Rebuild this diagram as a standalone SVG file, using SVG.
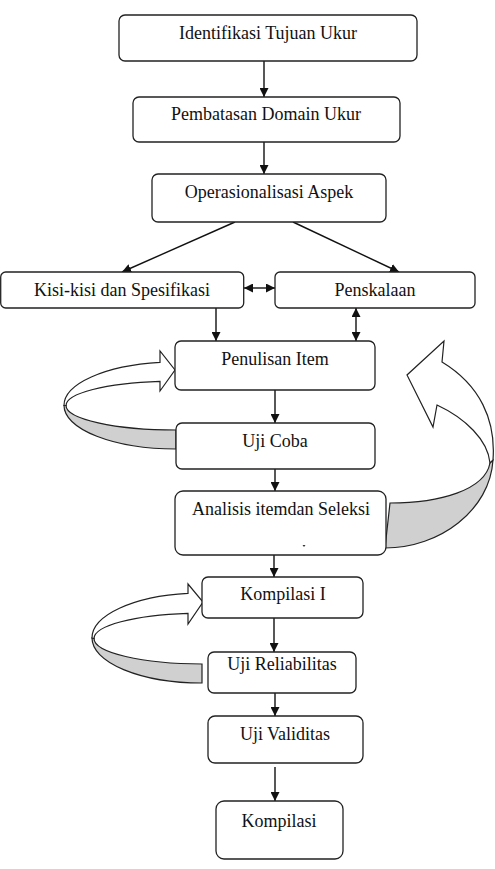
<svg xmlns="http://www.w3.org/2000/svg" width="495" height="869" viewBox="0 0 495 869">
<style>
.box{fill:#fff;stroke:#222;stroke-width:1.3}
.t{font-family:'Liberation Serif','Times New Roman','DejaVu Serif',serif;font-size:18px;fill:#111;text-anchor:middle}
.c{stroke:#111;stroke-width:1.4;fill:none}
.wa{fill:#fff;stroke:#222;stroke-width:1.2;stroke-linejoin:miter}
.ga{fill:#d0d0d0;stroke:#222;stroke-width:1.2}
</style>
<defs>
<marker id="ah" viewBox="0 0 10 10" refX="10" refY="5" markerWidth="9" markerHeight="9" markerUnits="userSpaceOnUse" orient="auto-start-reverse">
<path d="M0,0 L10,5 L0,10 z" fill="#111"/>
</marker>
</defs>
<rect width="495" height="869" fill="#fff"/>

<g id="loop1">
<path class="ga" d="M176,449 A112,43.5 0 0 1 64,405.5 L66,405.5 A110,24.5 0 0 0 176,430 Z"/>
<path class="wa" d="M160,362.4 L160,351 L175,370 L160,391 L160,381.3 A110,24.5 0 0 0 66,405.5 L64,405.5 A112,43.5 0 0 1 160,362.4 Z"/>
</g>
<g id="loop2">
<path class="ga" d="M202,683 A110,45 0 0 1 92,638 L94,638.5 A108,25.5 0 0 0 202,664 Z"/>
<path class="wa" d="M188,593.4 L188,584 L203,602 L188,624 L188,613.3 A108,25.5 0 0 0 94,638.5 L92,638 A110,45 0 0 1 188,593.4 Z"/>
</g>
<g id="loop3">
<path class="ga" d="M390,503 C440,503 485,490 490,463 L493,460 C490,510 440,548 385,548 Z"/>
<path class="wa" d="M442,362 L444,341 L407,375 L433,427 L437,405 C465,418 488,440 490,463 L493,460 C496,420 480,385 442,362 Z"/>
</g>

<g id="connectors">
<line class="c" x1="264" y1="61" x2="264" y2="97" marker-end="url(#ah)"/>
<line class="c" x1="264" y1="142" x2="264" y2="174" marker-end="url(#ah)"/>
<line class="c" x1="235" y1="222" x2="122" y2="272" marker-end="url(#ah)"/>
<line class="c" x1="293" y1="222" x2="399" y2="272" marker-end="url(#ah)"/>
<line class="c" x1="244" y1="288" x2="275" y2="288" marker-start="url(#ah)" marker-end="url(#ah)"/>
<line class="c" x1="216" y1="308" x2="216" y2="341" marker-end="url(#ah)"/>
<line class="c" x1="356" y1="308" x2="356" y2="341" marker-start="url(#ah)" marker-end="url(#ah)"/>
<line class="c" x1="275" y1="390" x2="275" y2="423" marker-end="url(#ah)"/>
<line class="c" x1="275" y1="469" x2="275" y2="491" marker-end="url(#ah)"/>
<line class="c" x1="274" y1="555" x2="274" y2="577" marker-end="url(#ah)"/>
<line class="c" x1="274" y1="618" x2="274" y2="652" marker-end="url(#ah)"/>
<line class="c" x1="275" y1="693" x2="275" y2="716" marker-end="url(#ah)"/>
<line class="c" x1="275" y1="767" x2="275" y2="801" marker-end="url(#ah)"/>
</g>

<g id="n1"><rect class="box" x="119" y="15" width="298" height="46" rx="6"/><text class="t" x="268" y="39">Identifikasi Tujuan Ukur</text></g>
<g id="n2"><rect class="box" x="133" y="97" width="267" height="45" rx="6"/><text class="t" x="266" y="120">Pembatasan Domain Ukur</text></g>
<g id="n3"><rect class="box" x="152" y="174" width="234" height="48" rx="6"/><text class="t" x="269" y="198">Operasionalisasi Aspek</text></g>
<g id="n4"><rect class="box" x="0.7" y="272" width="243" height="36" rx="5"/><text class="t" x="122" y="296">Kisi-kisi dan Spesifikasi</text></g>
<g id="n5"><rect class="box" x="275" y="272" width="200" height="36" rx="5"/><text class="t" x="375" y="296">Penskalaan</text></g>
<g id="n6"><rect class="box" x="175" y="341" width="200" height="49" rx="6"/><text class="t" x="275" y="365">Penulisan Item</text></g>
<g id="n7"><rect class="box" x="176" y="423" width="199" height="46" rx="6"/><text class="t" x="275" y="447">Uji Coba</text></g>
<g id="n8"><rect class="box" x="175" y="491" width="211" height="64" rx="8"/><text class="t" x="281" y="515">Analisis itemdan Seleksi</text><path d="M302.5,545 L305.5,545 L304,547 z" fill="#333"/></g>
<g id="n9"><rect class="box" x="202" y="577" width="161" height="41" rx="6"/><text class="t" x="283" y="600">Kompilasi I</text></g>
<g id="n10"><rect class="box" x="208" y="652" width="148" height="41" rx="6"/><text class="t" x="282" y="670">Uji Reliabilitas</text></g>
<g id="n11"><rect class="box" x="208" y="716" width="155" height="47" rx="7"/><text class="t" x="285" y="740">Uji Validitas</text></g>
<g id="n12"><rect class="box" x="216" y="801" width="127" height="58" rx="8"/><text class="t" x="279" y="827">Kompilasi</text></g>
</svg>
